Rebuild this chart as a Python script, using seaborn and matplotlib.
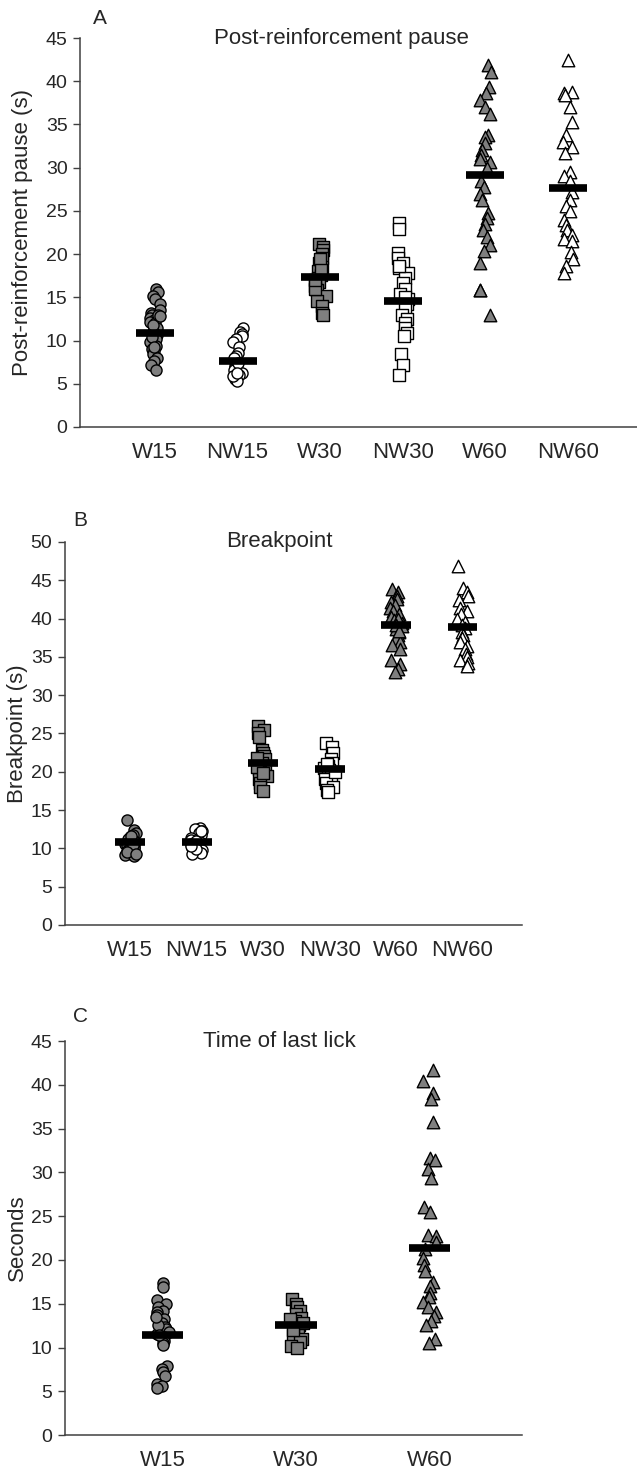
import numpy as np
import pandas as pd
import seaborn as sns
import matplotlib.pyplot as plt

groups = ["W15", "NW15", "W30", "NW30", "W60", "NW60"]
markers = ["o", "o", "s", "s", "^", "^"]
fills = ["#7f7f7f", "white", "#7f7f7f", "white", "#7f7f7f", "white"]

# panel A - post-reinforcement pause (s)
pause_w15 = [16.0, 15.6, 15.2, 14.8, 14.2, 13.5, 13.2, 12.9, 12.6, 12.4, 12.2, 12.0, 11.5, 11.0, 10.6,
             10.2, 9.8, 9.4, 9.0, 8.8, 8.5, 8.0, 7.6, 7.2, 6.6, 13.0, 11.8, 10.4, 9.2, 12.8]
pause_nw15 = [11.4, 11.0, 10.8, 10.5, 10.2, 9.8, 9.2, 8.6, 8.2, 7.8, 7.5, 7.2, 7.0, 6.8, 6.5,
              6.2, 6.0, 5.8, 5.5, 5.3, 8.0, 6.6, 7.4, 5.9, 6.3]
pause_w30 = [21.2, 20.8, 20.5, 20.0, 19.6, 19.0, 18.5, 18.0, 17.6, 17.2, 16.8, 16.3, 15.8, 15.2,
             14.6, 14.0, 13.2, 13.0, 19.4, 18.2, 16.0, 17.0]
pause_nw30 = [23.6, 22.9, 20.1, 19.6, 19.0, 18.4, 17.8, 17.2, 16.6, 16.0, 15.4, 14.8, 14.2, 13.6,
              13.0, 12.5, 12.0, 11.4, 10.9, 10.5, 8.5, 7.2, 6.0, 18.6, 15.0]
pause_w60 = [41.9, 41.1, 39.3, 38.6, 37.8, 37.0, 36.2, 33.8, 33.5, 32.8, 32.0, 31.5, 31.0, 30.6,
             30.0, 28.5, 27.8, 27.0, 26.3, 24.8, 24.2, 23.5, 22.8, 22.0, 21.0, 20.4, 19.0, 15.9,
             15.8, 13.0]
pause_nw60 = [42.5, 38.8, 38.6, 38.4, 37.0, 35.3, 33.8, 33.0, 32.4, 31.7, 29.5, 29.0, 28.4, 27.2,
              26.3, 25.6, 25.0, 24.0, 23.4, 22.8, 22.2, 21.8, 21.5, 20.2, 19.4, 18.6, 17.8]
pause_means = [10.9, 7.6, 17.4, 14.6, 29.1, 27.6]

# panel B - breakpoint (s)
bp_w15 = [13.7, 12.4, 12.0, 11.8, 11.5, 11.2, 11.0, 10.8, 10.6, 10.4, 10.2, 10.0, 9.8, 9.6, 9.4,
          9.2, 9.1, 9.0, 11.6, 10.5, 9.5, 9.3]
bp_nw15 = [12.7, 12.5, 12.2, 12.0, 11.7, 11.4, 11.1, 10.8, 10.5, 10.2, 10.0, 9.8, 9.6, 9.4, 9.3,
           11.0, 10.6, 12.3, 9.9, 10.3]
bp_w30 = [26.0, 25.5, 25.0, 24.6, 22.8, 22.4, 22.0, 21.6, 21.2, 20.8, 20.4, 20.0, 19.5, 19.0,
          18.5, 18.0, 17.5, 21.8, 20.6, 19.8]
bp_nw30 = [23.7, 23.2, 22.5, 21.6, 21.2, 20.8, 20.5, 20.2, 19.9, 19.5, 19.0, 18.5, 18.0, 17.6,
           17.3, 20.0, 21.0]
bp_w60 = [43.8, 43.5, 43.0, 42.6, 42.2, 41.8, 41.4, 41.0, 40.6, 40.2, 39.8, 39.4, 39.0, 38.6,
          38.2, 37.8, 37.4, 37.0, 36.6, 36.0, 34.6, 34.0, 33.4, 33.0, 40.0, 39.2, 38.4]
bp_nw60 = [46.9, 44.0, 43.5, 43.0, 42.4, 41.4, 41.0, 40.6, 40.0, 39.6, 39.2, 38.8, 38.2, 37.8,
           37.4, 37.0, 36.4, 36.0, 35.4, 35.0, 34.6, 34.2, 33.8]
bp_means = [10.8, 10.8, 21.1, 20.3, 39.1, 38.9]

# panel C - time of last lick (s)
lick_groups = ["W15", "W30", "W60"]
lick_w15 = [17.4, 16.9, 15.4, 15.0, 14.6, 14.2, 14.0, 13.7, 13.2, 12.8, 12.4, 12.1, 11.8, 11.5,
            11.2, 11.0, 10.8, 10.5, 10.3, 7.9, 7.5, 7.2, 6.8, 5.8, 5.6, 5.4, 12.6, 13.5, 11.4]
lick_w30 = [15.5, 15.0, 14.6, 14.2, 13.8, 13.4, 13.0, 12.6, 12.2, 11.8, 11.4, 11.0, 10.6, 10.2,
            9.9, 12.8, 13.2, 12.0]
lick_w60 = [41.7, 40.4, 39.1, 38.4, 35.8, 31.6, 31.4, 30.4, 29.4, 26.1, 25.5, 22.9, 22.7, 22.0,
            21.2, 20.2, 19.4, 18.7, 17.5, 17.0, 16.2, 15.8, 15.2, 14.6, 14.0, 13.6, 13.0, 12.6,
            11.0, 10.5]
lick_means = [11.4, 12.6, 21.4]

sns.set_style("ticks")
plt.rcParams['font.family'] = ['Liberation Sans', 'DejaVu Sans']
np.random.seed(3)

fig = plt.figure(figsize=(6.37, 14.79), dpi=100)
axA = fig.add_axes([0.1256, 0.7113, 0.8744, 0.263])
axB = fig.add_axes([0.102, 0.3746, 0.717, 0.259])
axC = fig.add_axes([0.102, 0.0297, 0.717, 0.2664])

msize = {"o": 8, "s": 8.5, "^": 9}


def panel(ax, cats, data, means, marks, cols, jit, barw, ymax, ystep, xlim, title, ylabel, labx):
    for i, cat in enumerate(cats):
        df = pd.DataFrame({"group": cat, "value": data[i]})
        sns.stripplot(data=df, x="group", y="value", order=cats, marker=marks[i],
                      color=cols[i], edgecolor="black", linewidth=1, size=msize[marks[i]],
                      jitter=jit, ax=ax, zorder=2)
    ax.hlines(means, np.arange(len(cats)) - barw / 2, np.arange(len(cats)) + barw / 2,
              color="black", linewidth=5.5, zorder=5)
    ax.set_xlim(*xlim)
    ax.set_ylim(0, ymax)
    ax.set_yticks(np.arange(0, ymax + 1, ystep))
    ax.set_xlabel("")
    ax.set_ylabel(ylabel, fontsize=16)
    ax.yaxis.set_label_coords(labx, 0.5)
    ax.tick_params(axis="x", length=0, labelsize=16, pad=11)
    ax.tick_params(axis="y", length=5, width=1, color="#404040", labelsize=14, pad=4)
    for s in ["top", "right"]:
        ax.spines[s].set_visible(False)
    for s in ["left", "bottom"]:
        ax.spines[s].set_color("#404040")
        ax.spines[s].set_linewidth(1.1)
    ax.text(0.47, 1.0, title, transform=ax.transAxes, ha="center", va="center", fontsize=16)


panel(axA, groups, [pause_w15, pause_nw15, pause_w30, pause_nw30, pause_w60, pause_nw60],
      pause_means, markers, fills, 0.07, 0.46, 45, 5, (-0.91, 5.84),
      "Post-reinforcement pause", "Post-reinforcement pause (s)", -0.084)
panel(axB, groups, [bp_w15, bp_nw15, bp_w30, bp_nw30, bp_w60, bp_nw60],
      bp_means, markers, fills, 0.09, 0.45, 50, 5, (-0.98, 5.89),
      "Breakpoint", "Breakpoint (s)", -0.081)
panel(axC, lick_groups, [lick_w15, lick_w30, lick_w60],
      lick_means, ["o", "s", "^"], ["#7f7f7f"] * 3, 0.05, 0.31, 45, 5, (-0.73, 2.69),
      "Time of last lick", "Seconds", -0.081)

fig.text(100 / 637, 1 - 18 / 1479, "A", ha="center", va="center", fontsize=15)
fig.text(80 / 637, 1 - 520 / 1479, "B", ha="center", va="center", fontsize=15)
fig.text(80 / 637, 1 - 1017 / 1479, "C", ha="center", va="center", fontsize=15)

fig.savefig("out.png", dpi=100)
